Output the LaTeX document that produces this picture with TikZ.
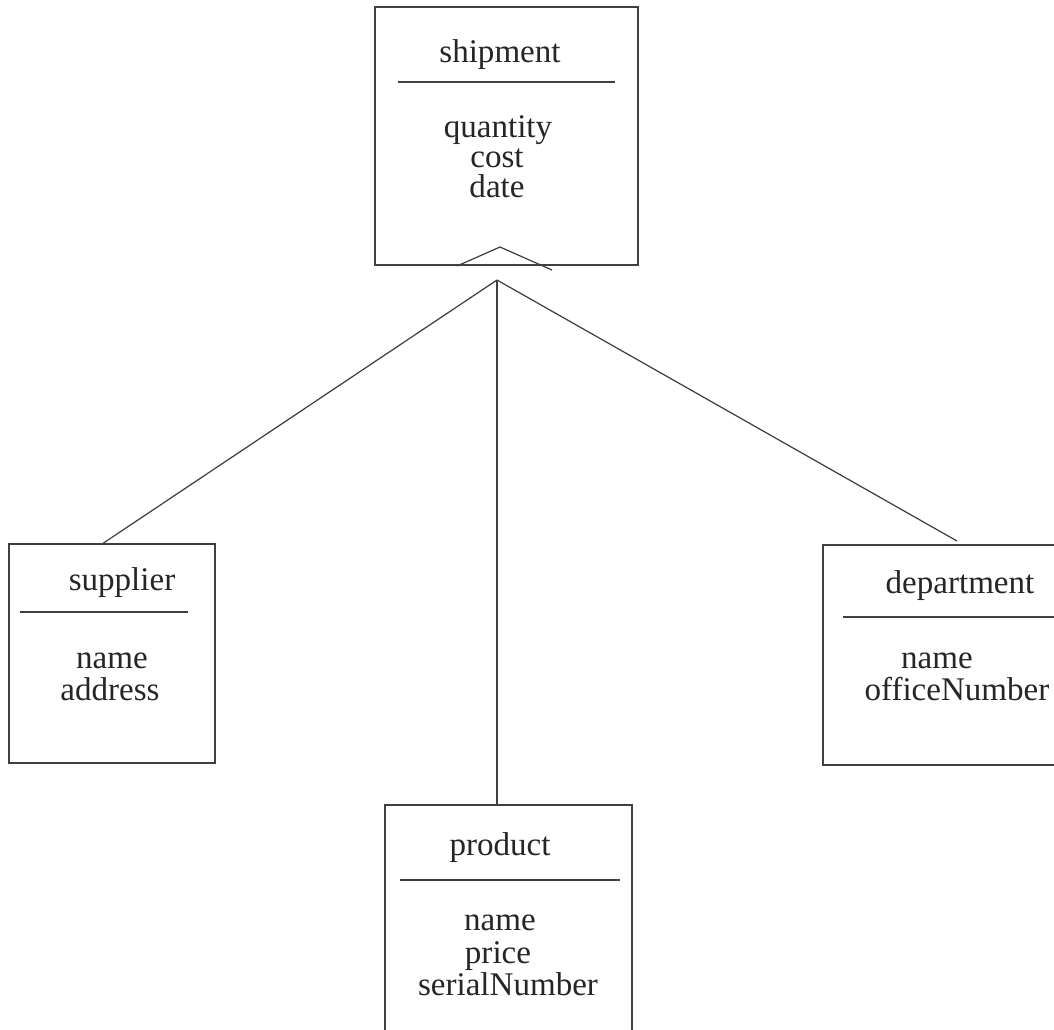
\documentclass[tikz,border=0pt]{standalone}
\usepackage{fontspec}
\setmainfont{Liberation Serif}

\begin{document}
\begin{tikzpicture}[x=0.01cm,y=-0.01cm,line width=.35pt,draw=black!75,
  entity/.style={draw,inner sep=0pt},
  lbl/.style={anchor=base,inner sep=0pt,text=black!85,font=\fontsize{9.4}{11}\selectfont}]
\useasboundingbox[fill=white] (0,0) rectangle (1054,1029);
% class boxes
\node[entity,minimum width=2.63cm,minimum height=2.58cm] (ship) at (506.5,136) {};
\node[entity,minimum width=2.06cm,minimum height=2.19cm] (supp) at (112,653.5) {};
\node[entity,minimum width=2.37cm,minimum height=2.20cm] (dept) at (941.5,655) {};
\node[entity,minimum width=2.47cm,minimum height=2.35cm] (prod) at (508.5,922.5) {};
% names and attributes
\foreach \x/\y/\t [count=\i] in {500/62/shipment,498/137/quantity,497/167/cost,497/197/date}
  \node[lbl] (ship\i) at (\x,\y) {\t};
\foreach \x/\y/\t [count=\i] in {122/590/supplier,112/668/name,110/700/address}
  \node[lbl] (supp\i) at (\x,\y) {\t};
\foreach \x/\y/\t [count=\i] in {960/593/department,937/668/name,957/700/officeNumber}
  \node[lbl] (dept\i) at (\x,\y) {\t};
\foreach \x/\y/\t [count=\i] in {500/855/product,500/930/name,498/963/price,508/995/serialNumber}
  \node[lbl] (prod\i) at (\x,\y) {\t};
% separators
\draw (398,82)--(615,82);
\draw (20,612)--(188,612);
\draw (843,617)--(1054,617);
\draw (400,880)--(620,880);
% aggregation mark
\draw (457,266)--(500,247)--(552,270);
\coordinate (hub) at (497,280);
\coordinate (suppend) at (102,544);
\coordinate (deptend) at (957,541);
\coordinate (prodend) at (497,804);
\draw (hub)--(suppend);
\draw (hub)--(deptend);
\draw (hub)--(prodend);
\end{tikzpicture}
\end{document}
